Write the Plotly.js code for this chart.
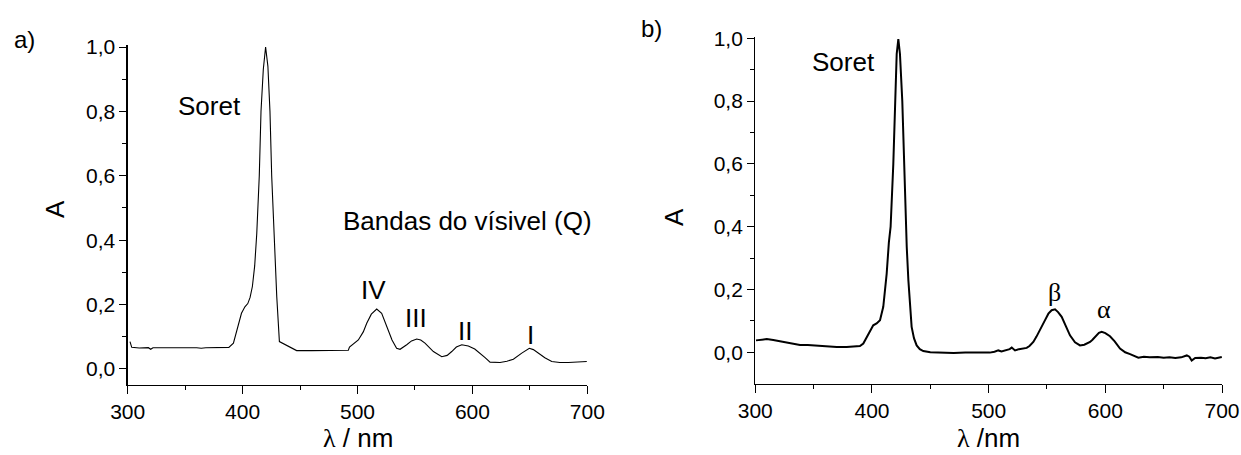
<!DOCTYPE html>
<html>
<head>
<meta charset="utf-8">
<script src="https://cdn.plot.ly/plotly-3.0.1.min.js"></script>
<style>html,body{margin:0;padding:0;background:#fff;}#chart{width:1241px;height:455px;}</style>
</head>
<body>
<div id="chart"></div>
<script>
// Panel a) spectrum
const waveA = [302,303.5,310,318,320,322,330,340,350,360,364,368,380,388,392,396,399,402,404.5,406.5,408.5,410.5,412.3,414.5,416,418,420,422,423.8,425.3,427.3,428.2,429.7,432,438,444,447,460,480,492,493,500.7,505,508,512,516.7,521,524,526.8,530,534,537,542.8,547,551.5,555,558.7,562,566,573.3,578,582,586,590.7,596.4,602,606.6,611,615.3,624,630,635.6,642.9,649.5,653,657.4,663,669,676,683.5,692,699.5];
const absA = [0.085,0.067,0.065,0.066,0.061,0.066,0.066,0.067,0.066,0.066,0.064,0.066,0.066,0.067,0.08,0.131,0.173,0.193,0.203,0.222,0.256,0.32,0.42,0.6,0.8,0.93,1.0,0.94,0.8,0.6,0.4,0.328,0.225,0.085,0.074,0.064,0.057,0.057,0.057,0.058,0.068,0.09,0.115,0.142,0.17,0.186,0.173,0.145,0.116,0.09,0.064,0.061,0.075,0.087,0.093,0.09,0.08,0.068,0.054,0.038,0.042,0.054,0.068,0.075,0.071,0.062,0.049,0.035,0.021,0.02,0.024,0.03,0.049,0.064,0.06,0.049,0.035,0.023,0.02,0.02,0.021,0.023];

// Panel b) spectrum
const waveB = [300.6,305,309.8,315.4,322,329.7,338.3,345,352.6,360,369.8,378.3,385,389.7,392.6,396.9,401.1,404,406.9,409.7,412.6,414.5,416,418.3,419.7,421.2,422.6,424,426,427.5,429.2,429.8,431.2,434,436,438.3,441,444,450,457,470,480,490,501,505,508.3,511,515,518,519.8,522.6,526,530,532.6,535,538.3,541,544,548,551.2,554,556.9,559.5,562.6,566,569.7,574,578.3,582,586.9,589,592,594.5,596.9,600,604,608,612.6,617,621.2,625,628.3,633,638,645,650,655,660,665,669.8,672,674,677,682,686,690,694,697,699.8];
const absB = [0.038,0.040,0.042,0.039,0.035,0.028,0.023,0.023,0.021,0.019,0.017,0.017,0.018,0.02,0.028,0.06,0.086,0.092,0.102,0.145,0.25,0.35,0.4,0.6,0.8,0.95,0.997,0.95,0.8,0.6,0.4,0.336,0.23,0.081,0.045,0.022,0.01,0.004,0.0,-0.001,-0.002,-0.001,-0.002,-0.001,0.002,0.006,0.003,0.008,0.01,0.015,0.006,0.01,0.011,0.014,0.02,0.033,0.05,0.07,0.1,0.123,0.134,0.137,0.128,0.113,0.085,0.054,0.032,0.022,0.024,0.033,0.04,0.054,0.062,0.065,0.061,0.051,0.035,0.012,0.0,-0.006,-0.012,-0.017,-0.014,-0.016,-0.015,-0.017,-0.016,-0.018,-0.016,-0.01,-0.014,-0.026,-0.018,-0.017,-0.019,-0.016,-0.02,-0.017,-0.015];

const xTicks = [300,400,500,600,700];
const yTicks = [0,0.2,0.4,0.6,0.8,1.0];

const SANS = '"Liberation Sans", Arial, sans-serif';
const SERIF = '"Liberation Serif", "Times New Roman", serif';

const traces = [
  {x: waveA, y: absA, type: 'scatter', mode: 'lines', line: {color: '#000', width: 1.1}, xaxis: 'x', yaxis: 'y', hoverinfo: 'skip'},
  {x: waveB, y: absB, type: 'scatter', mode: 'lines', line: {color: '#000', width: 2}, xaxis: 'x2', yaxis: 'y2', hoverinfo: 'skip'}
];

function xax(domain, anchor) {
  return {domain: domain, anchor: anchor, range: [300, 700], tickvals: xTicks, ticks: 'outside', ticklen: 8, tickwidth: 1,
    tickcolor: '#000', showline: true, linecolor: '#000', linewidth: 1.2, showgrid: false, zeroline: false,
    minor: {tickvals: [350,450,550,650], ticks: 'outside', ticklen: 4, tickcolor: '#000', showgrid: false},
    tickfont: {family: SANS, size: 21, color: '#000'}, automargin: false};
}
function yax(domain, anchor, range) {
  return {domain: domain, anchor: anchor, range: range, tickvals: yTicks, tickformat: '.1f', ticks: 'outside', ticklen: 7, tickwidth: 1,
    tickcolor: '#000', showline: true, linecolor: '#000', linewidth: 1.2, showgrid: false, zeroline: false,
    minor: {tickvals: [0.1,0.3,0.5,0.7,0.9], ticks: 'outside', ticklen: 4, tickcolor: '#000', showgrid: false},
    tickfont: {family: SANS, size: 21, color: '#000'}, automargin: false};
}

function ann(text, x, y, xref, yref, size, family, extra) {
  return Object.assign({text: text, x: x, y: y, xref: xref, yref: yref, showarrow: false,
    font: {family: family || SANS, size: size, color: '#000'}, xanchor: 'center', yanchor: 'middle'}, extra || {});
}

const layout = {
  width: 1241, height: 455,
  margin: {l: 0, r: 0, t: 0, b: 0},
  paper_bgcolor: '#fff', plot_bgcolor: '#fff',
  showlegend: false,
  separators: ',.',
  font: {family: SANS, color: '#000'},
  xaxis: xax([0.1029, 0.4733], 'y'),
  yaxis: yax([0.1538, 0.9002], 'x', [-0.05, 1.005]),
  xaxis2: xax([0.6086, 0.9847], 'y2'),
  yaxis2: yax([0.1567, 0.9193], 'x2', [-0.1, 1.005]),
  annotations: [
    ann('a)', 0.0201, 0.914, 'paper', 'paper', 24),
    ann('b)', 0.5246, 0.938, 'paper', 'paper', 24),
    ann('A', 0.0443, 0.5407, 'paper', 'paper', 26, SANS, {textangle: -90}),
    ann('A', 0.5431, 0.523, 'paper', 'paper', 26, SANS, {textangle: -90}),
    ann('<span style="font-family:Liberation Serif">λ</span> / nm', 0.2881, 0.0, 'paper', 'paper', 26, SANS, {yanchor: 'bottom'}),
    ann('<span style="font-family:Liberation Serif">λ</span> /nm', 0.7962, 0.0, 'paper', 'paper', 26, SANS, {yanchor: 'bottom'}),
    ann('Soret', 371.6, 0.817, 'x', 'y', 26),
    ann('Bandas do vísivel (Q)', 595.7, 0.46, 'x', 'y', 26),
    ann('IV', 513.5, 0.245, 'x', 'y', 26),
    ann('III', 550.9, 0.158, 'x', 'y', 26),
    ann('II', 593.6, 0.118, 'x', 'y', 26),
    ann('I', 650.2, 0.106, 'x', 'y', 26),
    ann('Soret', 376, 0.925, 'x2', 'y2', 26),
    ann('β', 556.5, 0.191, 'x2', 'y2', 26, SERIF),
    ann('α', 598.9, 0.135, 'x2', 'y2', 26, SERIF)
  ]
};

Plotly.newPlot('chart', traces, layout, {staticPlot: true, displayModeBar: false});
</script>
</body>
</html>
